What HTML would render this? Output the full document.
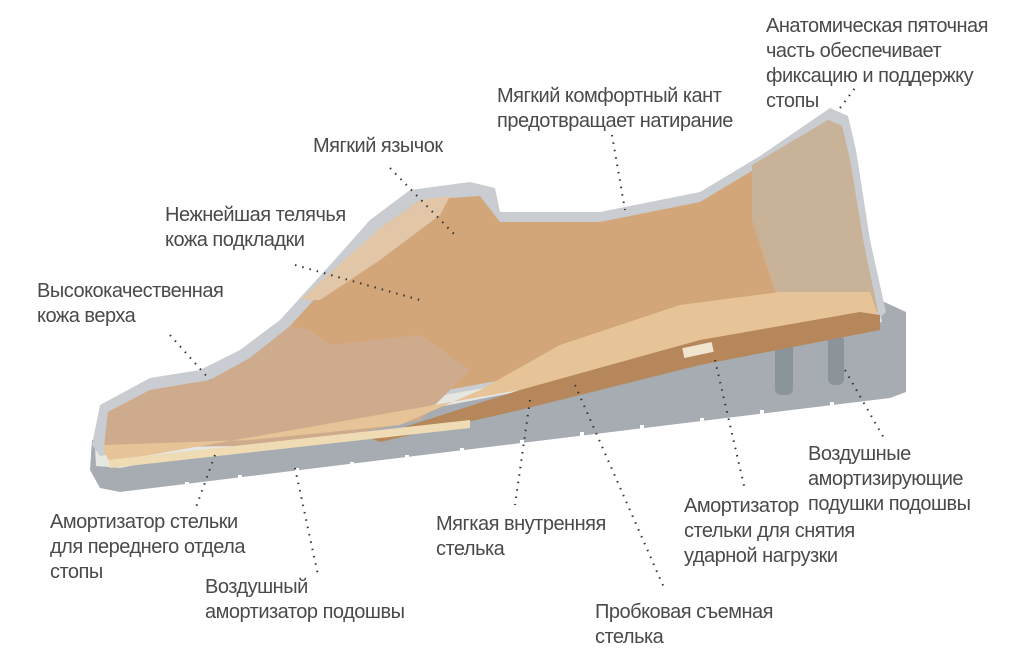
<!DOCTYPE html>
<html><head><meta charset="utf-8"><style>
html,body{margin:0;padding:0;background:#fff;}
body{width:1024px;height:652px;position:relative;overflow:hidden;font-family:"Liberation Sans","Noto Sans CJK SC",sans-serif;}
.t{position:absolute;font-size:20px;line-height:25px;color:#4a4a4a;white-space:nowrap;letter-spacing:-0.5px;}
svg{position:absolute;left:0;top:0;}
</style></head><body>
<svg width="1024" height="652" viewBox="0 0 1024 652">
  <path d="M92,440 L880,300 L906,312 L906,392 L890,398 L120,492 L100,488 L90,470 Z" fill="#a6acb2"/>
  <g fill="#fff">
    <rect x="185" y="482" width="4" height="10"/><rect x="238" y="475" width="4" height="10"/>
    <rect x="295" y="468" width="4" height="10"/><rect x="350" y="462" width="4" height="10"/>
    <rect x="405" y="455" width="4" height="10"/><rect x="460" y="448" width="4" height="10"/>
    <rect x="520" y="440" width="4" height="10"/><rect x="580" y="432" width="4" height="10"/>
    <rect x="640" y="425" width="4" height="10"/><rect x="700" y="418" width="4" height="10"/>
    <rect x="760" y="410" width="4" height="10"/><rect x="830" y="402" width="4" height="10"/>
  </g>
  <rect x="775" y="340" width="18" height="55" rx="6" fill="#8b939b"/>
  <rect x="828" y="335" width="16" height="50" rx="6" fill="#8b939b"/>
  <path d="M95,448 L880,312 L882,322 L120,468 L96,466 Z" fill="#e6e6e2"/>
  <path d="M92,445 L100,405 L150,378 L200,370 L240,350 L280,320 L300,298 L330,265 L370,220 L410,190 L470,182 L495,188 L500,212 L600,212 L700,192 L760,156 L830,108 L848,116 L856,150 L870,240 L886,312 L880,318 L100,456 Z" fill="#c9ccd0"/>
  <path d="M104,448 L108,412 L150,390 L210,380 L250,358 L290,326 L310,304 L340,272 L380,228 L420,200 L480,196 L500,222 L600,222 L700,202 L760,166 L828,120 L842,126 L850,160 L864,245 L878,312 L104,452 Z" fill="#d2a679"/>
  <path d="M104,448 L108,412 L150,390 L210,380 L250,358 L290,326 L310,330 L330,345 L420,335 L470,370 L420,420 L300,445 Z" fill="#cfab8e"/>
  <path d="M300,300 L380,228 L420,200 L450,196 L440,215 L380,260 L320,300 Z" fill="#e2c6a8"/>
  <path d="M752,165 L828,120 L842,126 L850,160 L864,245 L878,312 L800,318 L778,300 L752,220 Z" fill="#c8b398"/>
  <path d="M104,452 L104,445 L250,440 L400,425 L480,390 L560,345 L680,305 L780,292 L870,292 L878,315 L520,390 L110,462 Z" fill="#e7c497"/>
  <path d="M370,438 L520,390 L700,340 L860,312 L880,315 L880,330 L700,365 L520,410 L380,442 Z" fill="#b5875a"/>
  <rect x="683" y="345" width="30" height="10" fill="#f0e6d0" transform="rotate(-12 698 350)"/>
  <path d="M108,460 L470,420 L470,428 L110,468 Z" fill="#efdcb5"/>
  <g stroke="#333" stroke-width="2" stroke-dasharray="1.5 6" fill="none">
    <line x1="840" y1="108" x2="855" y2="88"/>
    <line x1="612" y1="135" x2="625" y2="210"/>
    <line x1="390" y1="168" x2="455" y2="235"/>
    <line x1="295" y1="265" x2="420" y2="300"/>
    <line x1="170" y1="335" x2="210" y2="380"/>
    <line x1="215" y1="455" x2="195" y2="510"/>
    <line x1="295" y1="468" x2="318" y2="575"/>
    <line x1="530" y1="400" x2="515" y2="505"/>
    <line x1="575" y1="385" x2="665" y2="590"/>
    <line x1="715" y1="360" x2="745" y2="490"/>
    <line x1="845" y1="370" x2="885" y2="440"/>
  </g>
</svg>
<div class="t" style="left:766px;top:14px">Анатомическая пяточная<br>часть обеспечивает<br>фиксацию и поддержку<br>стопы</div>
<div class="t" style="left:497px;top:84px">Мягкий комфортный кант<br>предотвращает натирание</div>
<div class="t" style="left:313px;top:134px">Мягкий язычок</div>
<div class="t" style="left:165px;top:203px">Нежнейшая телячья<br>кожа подкладки</div>
<div class="t" style="left:37px;top:279px">Высококачественная<br>кожа верха</div>
<div class="t" style="left:50px;top:510px">Амортизатор стельки<br>для переднего отдела<br>стопы</div>
<div class="t" style="left:205px;top:575px">Воздушный<br>амортизатор подошвы</div>
<div class="t" style="left:436px;top:512px">Мягкая внутренняя<br>стелька</div>
<div class="t" style="left:595px;top:600px">Пробковая съемная<br>стелька</div>
<div class="t" style="left:684px;top:494px">Амортизатор<br>стельки для снятия<br>ударной нагрузки</div>
<div class="t" style="left:808px;top:442px">Воздушные<br>амортизирующие<br>подушки подошвы</div>
</body></html>
